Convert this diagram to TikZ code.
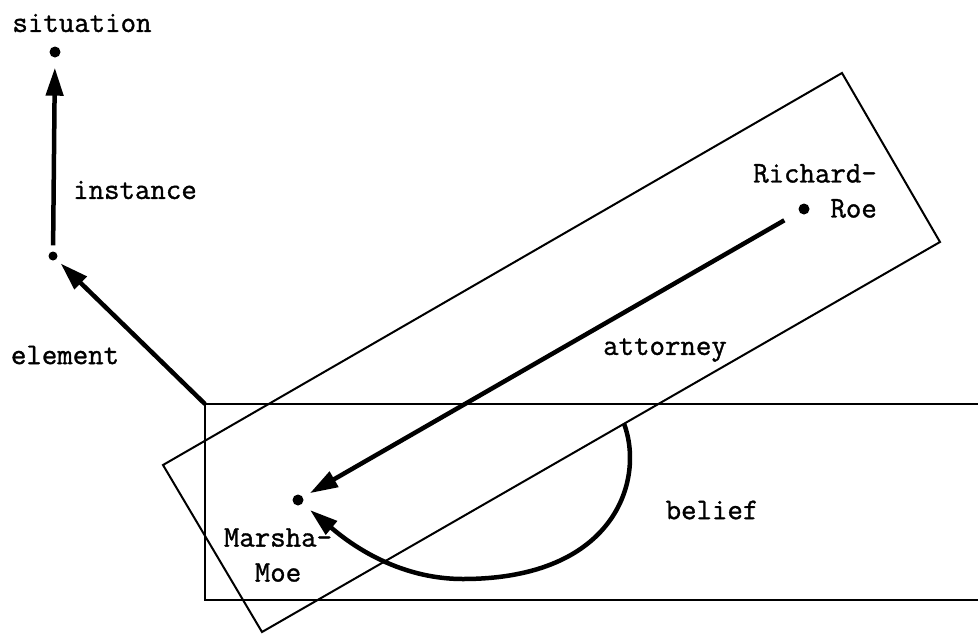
\documentclass[tikz,border=0pt]{standalone}
\usepackage{fontspec}
\newfontfamily\netfont[FakeBold=1.2]{Latin Modern Mono}
\usetikzlibrary{arrows.meta,calc}

\begin{document}
\begin{tikzpicture}[x=1pt,y=-1pt,
    frame/.style={line width=2pt},
    link/.style={line width=4.5pt,-{Triangle[length=28pt,width=17pt]}},
    dot/.style={circle,fill,inner sep=0pt,minimum size=11pt},
    lbl/.style={font=\netfont\fontsize{30}{35}\selectfont,inner sep=0pt}]
    \useasboundingbox (0,0) rectangle (978,635);

    % Frames
    \coordinate (hb) at (205,404);
    \draw[frame] (990,404) -- (hb) -- (205,600) -- (990,600);
    \coordinate (rl) at (163,465);
    \coordinate (rt) at (842,73);
    \coordinate (rr) at (940,242);
    \coordinate (rb) at (262,632);
    \draw[frame] (rl) -- (rt) -- (rr) -- (rb) -- cycle;

    % Points
    \node[dot] (sit) at (55,52) {};
    \node[dot,minimum size=9pt] (elem) at (53,256) {};
    \node[dot] (marsha) at (298,500) {};
    \node[dot] (richard) at (804,209) {};

    % Labels
    \node[lbl] (sitlbl) at (82,23) {situation};
    \node[lbl] (instlbl) at (135,190) {instance};
    \node[lbl] (elemlbl) at (65,355) {element};
    \node[lbl] (attlbl) at (665,350) {attorney};
    \node[lbl] (bellbl) at (712,510) {belief};
    \node[lbl,anchor=east,align=right] (richlbl) at (877,191) {Richard-\\Roe};
    \node[lbl,align=center] (marlbl) at (278,555) {Marsha-\\Moe};

    % Links
    \draw[link,shorten <=6pt,shorten >=10pt] (elem) -- (sit);
    \draw[link,shorten >=6pt] (hb) -- (elem);
    \draw[link,shorten <=17pt,shorten >=8pt] (richard) -- (marsha);
    \coordinate (bstart) at ($(rb)!0.534!(rr)$);
    \draw[link,shorten >=10pt] (bstart) .. controls (645,480) and (615,579) .. (463,579)
        .. controls (390,579) and (340,535) .. (marsha);
\end{tikzpicture}
\end{document}
